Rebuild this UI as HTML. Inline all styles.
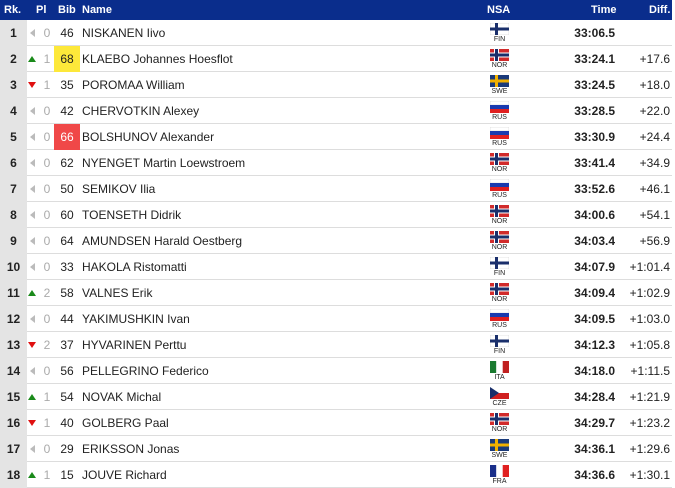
<!DOCTYPE html>
<html><head><style>
body{margin:0;width:675px;height:488px;background:#fff;font-family:"Liberation Sans",Arial,sans-serif;overflow:hidden;position:relative}
.hd{position:absolute;left:0;top:0;width:672px;height:20px;background:#0a2d8c;color:#fff;font-weight:bold;font-size:11px}
.hd span{position:absolute;top:4px}
.r{position:absolute;left:0;width:672px;height:25px;border-bottom:1px solid #ddd;font-size:12px;color:#222}
.rk{position:absolute;left:0;top:0;width:27px;height:26px;background:#e4e4e4;text-align:center;line-height:26px;font-weight:bold}
.ar{position:absolute;left:28px;top:9px;width:0;height:0}
.ar.n{border-top:4px solid transparent;border-bottom:4px solid transparent;border-right:5px solid #bbb;top:9px;left:30px}
.ar.u{border-left:4px solid transparent;border-right:4px solid transparent;border-bottom:6px solid #1a8a1a;top:10px}
.ar.d{border-left:4px solid transparent;border-right:4px solid transparent;border-top:6px solid #e01010;top:10px}
.pl{position:absolute;left:43px;width:8px;line-height:26px;color:#aaa;text-align:center}
.bib{position:absolute;left:54px;width:26px;height:26px;line-height:26px;text-align:center}
.nm{position:absolute;left:82px;line-height:26px}
.fl{position:absolute;left:490px;top:3px;width:19px;height:12px}
.cd{position:absolute;left:480px;width:39px;top:16px;font-size:7px;text-align:center;color:#222}
.tm{position:absolute;right:57px;line-height:26px;font-weight:bold}
.df{position:absolute;right:2px;line-height:26px}
</style></head><body>
<svg width="0" height="0" style="position:absolute"><defs>
<g id="FIN"><rect width="19" height="12" fill="#fff" stroke="#ccc" stroke-width=".5"/><rect x="5" width="3" height="12" fill="#1a2f6b"/><rect y="4.5" width="19" height="3" fill="#1a2f6b"/></g>
<g id="NOR"><rect width="19" height="12" fill="#d12b2b"/><rect x="4" width="5" height="12" fill="#fff"/><rect y="3.5" width="19" height="5" fill="#fff"/><rect x="5" width="3" height="12" fill="#1a2f6b"/><rect y="4.5" width="19" height="3" fill="#1a2f6b"/></g>
<g id="SWE"><rect width="19" height="12" fill="#1a3a7a"/><rect x="5" width="3" height="12" fill="#f0b000"/><rect y="4.5" width="19" height="3" fill="#f0b000"/></g>
<g id="RUS"><rect width="19" height="4" fill="#fff" stroke="#ccc" stroke-width=".5"/><rect y="4" width="19" height="4" fill="#1a3bb0"/><rect y="8" width="19" height="4" fill="#e02020"/></g>
<g id="ITA"><rect width="6.3" height="12" fill="#1a7a30"/><rect x="6.3" width="6.4" height="12" fill="#fff"/><rect x="12.7" width="6.3" height="12" fill="#c02020"/></g>
<g id="CZE"><rect width="19" height="6" fill="#fff"/><rect y="6" width="19" height="6" fill="#d02020"/><polygon points="0,0 9,6 0,12" fill="#1a2f6b"/></g>
<g id="FRA"><rect width="6.3" height="12" fill="#1a2f8a"/><rect x="6.3" width="6.4" height="12" fill="#fff"/><rect x="12.7" width="6.3" height="12" fill="#e02020"/></g>
</defs></svg>
<div class="hd"><span style="left:4px">Rk.</span><span style="left:36px">Pl</span><span style="left:58px">Bib</span><span style="left:82px">Name</span><span style="left:487px">NSA</span><span style="left:591px">Time</span><span style="left:649px">Diff.</span></div>

<div class="r" style="top:20px"><div class="rk">1</div><div class="ar n"></div><div class="pl">0</div><div class="bib">46</div><div class="nm">NISKANEN Iivo</div><svg class="fl" viewBox="0 0 19 12"><use href="#FIN"/></svg><div class="cd">FIN</div><div class="tm">33:06.5</div><div class="df"></div></div>
<div class="r" style="top:46px"><div class="rk">2</div><div class="ar u"></div><div class="pl">1</div><div class="bib" style="background:#fde83a">68</div><div class="nm">KLAEBO Johannes Hoesflot</div><svg class="fl" viewBox="0 0 19 12"><use href="#NOR"/></svg><div class="cd">NOR</div><div class="tm">33:24.1</div><div class="df">+17.6</div></div>
<div class="r" style="top:72px"><div class="rk">3</div><div class="ar d"></div><div class="pl">1</div><div class="bib">35</div><div class="nm">POROMAA William</div><svg class="fl" viewBox="0 0 19 12"><use href="#SWE"/></svg><div class="cd">SWE</div><div class="tm">33:24.5</div><div class="df">+18.0</div></div>
<div class="r" style="top:98px"><div class="rk">4</div><div class="ar n"></div><div class="pl">0</div><div class="bib">42</div><div class="nm">CHERVOTKIN Alexey</div><svg class="fl" viewBox="0 0 19 12"><use href="#RUS"/></svg><div class="cd">RUS</div><div class="tm">33:28.5</div><div class="df">+22.0</div></div>
<div class="r" style="top:124px"><div class="rk">5</div><div class="ar n"></div><div class="pl">0</div><div class="bib" style="background:#f04848;color:#fff">66</div><div class="nm">BOLSHUNOV Alexander</div><svg class="fl" viewBox="0 0 19 12"><use href="#RUS"/></svg><div class="cd">RUS</div><div class="tm">33:30.9</div><div class="df">+24.4</div></div>
<div class="r" style="top:150px"><div class="rk">6</div><div class="ar n"></div><div class="pl">0</div><div class="bib">62</div><div class="nm">NYENGET Martin Loewstroem</div><svg class="fl" viewBox="0 0 19 12"><use href="#NOR"/></svg><div class="cd">NOR</div><div class="tm">33:41.4</div><div class="df">+34.9</div></div>
<div class="r" style="top:176px"><div class="rk">7</div><div class="ar n"></div><div class="pl">0</div><div class="bib">50</div><div class="nm">SEMIKOV Ilia</div><svg class="fl" viewBox="0 0 19 12"><use href="#RUS"/></svg><div class="cd">RUS</div><div class="tm">33:52.6</div><div class="df">+46.1</div></div>
<div class="r" style="top:202px"><div class="rk">8</div><div class="ar n"></div><div class="pl">0</div><div class="bib">60</div><div class="nm">TOENSETH Didrik</div><svg class="fl" viewBox="0 0 19 12"><use href="#NOR"/></svg><div class="cd">NOR</div><div class="tm">34:00.6</div><div class="df">+54.1</div></div>
<div class="r" style="top:228px"><div class="rk">9</div><div class="ar n"></div><div class="pl">0</div><div class="bib">64</div><div class="nm">AMUNDSEN Harald Oestberg</div><svg class="fl" viewBox="0 0 19 12"><use href="#NOR"/></svg><div class="cd">NOR</div><div class="tm">34:03.4</div><div class="df">+56.9</div></div>
<div class="r" style="top:254px"><div class="rk">10</div><div class="ar n"></div><div class="pl">0</div><div class="bib">33</div><div class="nm">HAKOLA Ristomatti</div><svg class="fl" viewBox="0 0 19 12"><use href="#FIN"/></svg><div class="cd">FIN</div><div class="tm">34:07.9</div><div class="df">+1:01.4</div></div>
<div class="r" style="top:280px"><div class="rk">11</div><div class="ar u"></div><div class="pl">2</div><div class="bib">58</div><div class="nm">VALNES Erik</div><svg class="fl" viewBox="0 0 19 12"><use href="#NOR"/></svg><div class="cd">NOR</div><div class="tm">34:09.4</div><div class="df">+1:02.9</div></div>
<div class="r" style="top:306px"><div class="rk">12</div><div class="ar n"></div><div class="pl">0</div><div class="bib">44</div><div class="nm">YAKIMUSHKIN Ivan</div><svg class="fl" viewBox="0 0 19 12"><use href="#RUS"/></svg><div class="cd">RUS</div><div class="tm">34:09.5</div><div class="df">+1:03.0</div></div>
<div class="r" style="top:332px"><div class="rk">13</div><div class="ar d"></div><div class="pl">2</div><div class="bib">37</div><div class="nm">HYVARINEN Perttu</div><svg class="fl" viewBox="0 0 19 12"><use href="#FIN"/></svg><div class="cd">FIN</div><div class="tm">34:12.3</div><div class="df">+1:05.8</div></div>
<div class="r" style="top:358px"><div class="rk">14</div><div class="ar n"></div><div class="pl">0</div><div class="bib">56</div><div class="nm">PELLEGRINO Federico</div><svg class="fl" viewBox="0 0 19 12"><use href="#ITA"/></svg><div class="cd">ITA</div><div class="tm">34:18.0</div><div class="df">+1:11.5</div></div>
<div class="r" style="top:384px"><div class="rk">15</div><div class="ar u"></div><div class="pl">1</div><div class="bib">54</div><div class="nm">NOVAK Michal</div><svg class="fl" viewBox="0 0 19 12"><use href="#CZE"/></svg><div class="cd">CZE</div><div class="tm">34:28.4</div><div class="df">+1:21.9</div></div>
<div class="r" style="top:410px"><div class="rk">16</div><div class="ar d"></div><div class="pl">1</div><div class="bib">40</div><div class="nm">GOLBERG Paal</div><svg class="fl" viewBox="0 0 19 12"><use href="#NOR"/></svg><div class="cd">NOR</div><div class="tm">34:29.7</div><div class="df">+1:23.2</div></div>
<div class="r" style="top:436px"><div class="rk">17</div><div class="ar n"></div><div class="pl">0</div><div class="bib">29</div><div class="nm">ERIKSSON Jonas</div><svg class="fl" viewBox="0 0 19 12"><use href="#SWE"/></svg><div class="cd">SWE</div><div class="tm">34:36.1</div><div class="df">+1:29.6</div></div>
<div class="r" style="top:462px"><div class="rk">18</div><div class="ar u"></div><div class="pl">1</div><div class="bib">15</div><div class="nm">JOUVE Richard</div><svg class="fl" viewBox="0 0 19 12"><use href="#FRA"/></svg><div class="cd">FRA</div><div class="tm">34:36.6</div><div class="df">+1:30.1</div></div>
</body></html>
